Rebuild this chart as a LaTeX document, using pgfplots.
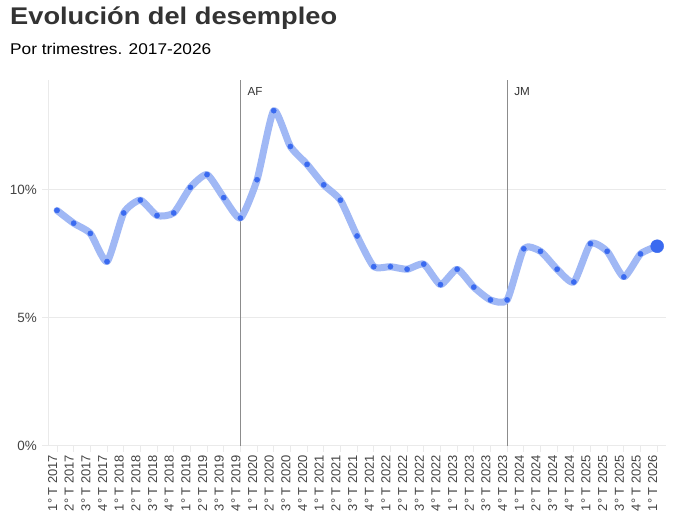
\documentclass[border=0pt]{standalone}
\usepackage{pgfplots}
\pgfplotsset{compat=1.18}
\usepackage{fontspec}
\setmainfont{Liberation Sans}
\newfontfamily\titlefont[FakeStretch=1.13]{Liberation Sans}
\newfontfamily\subfont[FakeStretch=1.11]{Liberation Sans}
\definecolor{linec}{RGB}{160,184,245}
\definecolor{markc}{RGB}{58,106,240}
\definecolor{gridc}{RGB}{234,234,234}
\definecolor{txt}{RGB}{51,51,51}
\definecolor{ticktxt}{RGB}{68,68,68}
\definecolor{vline}{RGB}{140,140,140}
\pgfplotstableread{
x y
0 9.2
1 8.7
2 8.3
3 7.2
4 9.1
5 9.6
6 9.0
7 9.1
8 10.1
9 10.6
10 9.7
11 8.9
12 10.4
13 13.1
14 11.7
15 11.0
16 10.2
17 9.6
18 8.2
19 7.0
20 7.0
21 6.9
22 7.1
23 6.3
24 6.9
25 6.2
26 5.7
27 5.7
28 7.7
29 7.6
30 6.9
31 6.4
32 7.9
33 7.6
34 6.6
35 7.5
36 7.8
}\datatable
\begin{document}
\begin{tikzpicture}[x=1bp,y=1bp]
\fill[white] (0,0) rectangle (682,518);
\path[use as bounding box] (0,0) rectangle (682,518);
\node[anchor=base west, inner sep=0pt, text=txt, font=\titlefont\fontsize{24.2}{24.2}\selectfont\bfseries] at (10,493) {Evolución del desempleo};
\node[anchor=base west, inner sep=0pt, text=black, font=\subfont\fontsize{15.6}{15.6}\selectfont] at (10,463.7) {Por trimestres. 2017-2026};
\begin{axis}[
  at={(48bp,72.3bp)}, anchor=south west, scale only axis,
  width=618bp, height=365.7bp,
  xmin=-0.54, xmax=36.53, ymin=0, ymax=14.3,
  axis lines*=left,
  axis line style={gridc, line width=1bp},
  ytick={0,5,10}, yticklabels={0\%,5\%,10\%},
  ymajorgrids, grid style={gridc, line width=1bp},
  tick align=outside, major tick length=6bp,
  tick style={gridc, line width=1bp},
  xtick={0,...,36},
  xticklabels={1° T 2017,2° T 2017,3° T 2017,4° T 2017,1° T 2018,2° T 2018,3° T 2018,4° T 2018,1° T 2019,2° T 2019,3° T 2019,4° T 2019,1° T 2020,2° T 2020,3° T 2020,4° T 2020,1° T 2021,2° T 2021,3° T 2021,4° T 2021,1° T 2022,2° T 2022,3° T 2022,4° T 2022,1° T 2023,2° T 2023,3° T 2023,4° T 2023,1° T 2024,2° T 2024,3° T 2024,4° T 2024,1° T 2025,2° T 2025,3° T 2025,4° T 2025,1° T 2026},
  x tick label style={rotate=90, anchor=base east, inner sep=0pt, font=\fontsize{13}{13}\selectfont, text=ticktxt},
  xticklabel shift=3bp,
  y tick label style={anchor=east, inner sep=0pt, font=\fontsize{13.5}{13.5}\selectfont, text=ticktxt},
  yticklabel shift=5bp,
  clip=false,
]
\addplot[vline, line width=1bp] coordinates {(11,0) (11,14.3)};
\addplot[vline, line width=1bp] coordinates {(27,0) (27,14.3)};
\node[anchor=base west, inner sep=0pt, font=\fontsize{11.7}{11.7}\selectfont, text=txt] at (axis cs:11,14.3) [xshift=7bp, yshift=-15.7bp] {AF};
\node[anchor=base west, inner sep=0pt, font=\fontsize{11.7}{11.7}\selectfont, text=txt] at (axis cs:27,14.3) [xshift=7bp, yshift=-15.7bp] {JM};
\addplot[linec, line width=7bp, smooth, tension=0.35, line cap=round, line join=round] table[x=x,y=y] {\datatable};
\addplot[only marks, mark=*, mark size=2.6bp, markc, mark options={draw=none, fill=markc}] table[x=x,y=y] {\datatable};
\addplot[only marks, mark=*, mark size=6.5bp, markc, mark options={draw=none, fill=markc}] coordinates {(36,7.8)};
\end{axis}
\end{tikzpicture}
\end{document}
